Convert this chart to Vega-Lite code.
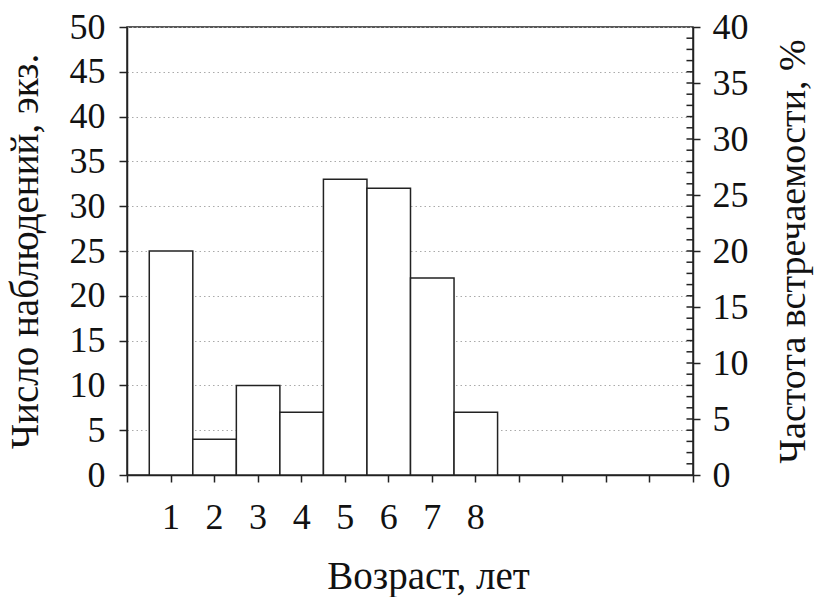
{
  "$schema": "https://vega.github.io/schema/vega-lite/v6.json",
  "autosize": {"type": "none"},
  "padding": {"left": 127, "top": 27, "right": 123, "bottom": 122},
  "width": 566,
  "height": 448,
  "background": "white",
  "view": {"stroke": "#222", "strokeWidth": 1.5},
  "config": {
    "font": "Liberation Serif",
    "axis": {
      "labelFont": "Liberation Serif",
      "titleFont": "Liberation Serif",
      "labelFontSize": 36,
      "titleFontSize": 39,
      "titleFontWeight": "normal",
      "labelColor": "#111",
      "titleColor": "#111",
      "domainColor": "#222",
      "domainWidth": 1.5,
      "tickColor": "#222",
      "tickWidth": 1.5
    }
  },
  "layer": [
    {
      "data": {
        "values": [
          {"age": 1, "count": 25},
          {"age": 2, "count": 4},
          {"age": 3, "count": 10},
          {"age": 4, "count": 7},
          {"age": 5, "count": 33},
          {"age": 6, "count": 32},
          {"age": 7, "count": 22},
          {"age": 8, "count": 7}
        ]
      },
      "mark": {"type": "bar", "fill": "white", "stroke": "#222", "strokeWidth": 1.5, "binSpacing": 0},
      "encoding": {
        "x": {
          "field": "age",
          "type": "quantitative",
          "bin": {"step": 1, "extent": [0.5, 8.5], "nice": false},
          "scale": {"domain": [0, 13], "nice": false, "zero": false},
          "axis": {
            "title": "Возраст, лет",
            "titleX": 301,
            "values": [0, 1, 2, 3, 4, 5, 6, 7, 8, 9, 10, 11, 12, 13],
            "labelExpr": "datum.value >= 1 && datum.value <= 8 ? format(datum.value, 'd') : ''",
            "tickSize": 7,
            "labelPadding": 18,
            "titlePadding": 22,
            "grid": false
          }
        },
        "y": {
          "aggregate": "sum",
          "field": "count",
          "type": "quantitative",
          "scale": {"domain": [0, 50], "nice": false},
          "axis": {
            "title": "Число наблюдений, экз.",
            "values": [0, 5, 10, 15, 20, 25, 30, 35, 40, 45, 50],
            "tickSize": 8,
            "labelPadding": 14,
            "titlePadding": 24,
            "grid": true,
            "gridColor": "#aaa",
            "gridDash": [1.5, 3],
            "gridWidth": 1
          }
        }
      }
    },
    {
      "data": {
        "values": [
          {"pct": 1}, {"pct": 2}, {"pct": 3}, {"pct": 4}, {"pct": 5},
          {"pct": 6}, {"pct": 7}, {"pct": 8}, {"pct": 9}, {"pct": 10},
          {"pct": 11}, {"pct": 12}, {"pct": 13}, {"pct": 14}, {"pct": 15},
          {"pct": 16}, {"pct": 17}, {"pct": 18}, {"pct": 19}, {"pct": 20},
          {"pct": 21}, {"pct": 22}, {"pct": 23}, {"pct": 24}, {"pct": 25},
          {"pct": 26}, {"pct": 27}, {"pct": 28}, {"pct": 29}, {"pct": 30},
          {"pct": 31}, {"pct": 32}, {"pct": 33}, {"pct": 34}, {"pct": 35},
          {"pct": 36}, {"pct": 37}, {"pct": 38}, {"pct": 39}
        ]
      },
      "mark": {"type": "rule", "stroke": "#222", "strokeWidth": 1.5},
      "encoding": {
        "x": {"datum": 12.85, "type": "quantitative"},
        "x2": {"datum": 13},
        "y": {
          "field": "pct",
          "type": "quantitative",
          "scale": {"domain": [0, 40], "nice": false},
          "axis": {
            "orient": "right",
            "title": "Частота встречаемости, %",
            "titleFontSize": 38,
            "titleAngle": -90,
            "titleBaseline": "top",
            "values": [0, 5, 10, 15, 20, 25, 30, 35, 40],
            "tickSize": 7,
            "labelPadding": 12,
            "titlePadding": 26,
            "grid": false
          }
        }
      }
    }
  ],
  "resolve": {"scale": {"y": "independent"}}
}
